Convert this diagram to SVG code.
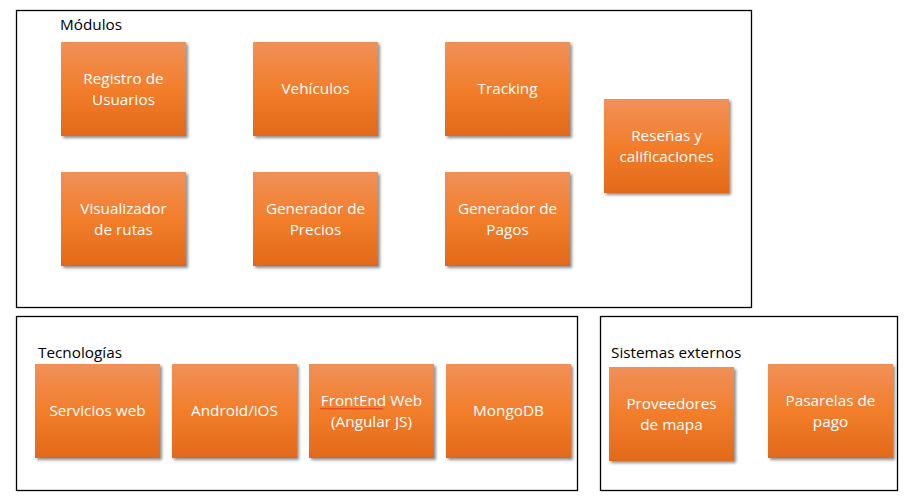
<svg xmlns="http://www.w3.org/2000/svg" width="914" height="501" viewBox="0 0 914 501">
<defs>
<linearGradient id="g" x1="0" y1="0" x2="0" y2="1">
<stop offset="0" stop-color="#f09059"/>
<stop offset="0.5" stop-color="#f27e2b"/>
<stop offset="1" stop-color="#e2691a"/>
</linearGradient>
<filter id="sh" x="-10%" y="-10%" width="125%" height="125%">
<feGaussianBlur in="SourceAlpha" stdDeviation="1.5"/>
<feOffset dx="2" dy="2" result="b"/>
<feComponentTransfer><feFuncA type="linear" slope="0.45"/></feComponentTransfer>
<feMerge><feMergeNode/><feMergeNode in="SourceGraphic"/></feMerge>
</filter>
</defs>
<style>
.frame{fill:#fff;stroke:#000;stroke-width:1.3}
.box{fill:url(#g);filter:url(#sh)}
.t{font-family:"Open Sans","Liberation Sans",sans-serif;font-size:15.3px;fill:#fff;text-anchor:middle}
.h{font-family:"Open Sans","Liberation Sans",sans-serif;font-size:15.3px;fill:#000}
</style>
<rect width="914" height="501" fill="#fff"/>
<g id="modulos">
<rect class="frame" x="16.5" y="10.5" width="735" height="297"/>
<text class="h" x="60" y="30">Módulos</text>
</g>
<g id="tecnologias">
<rect class="frame" x="16.5" y="316.5" width="561" height="174"/>
<text class="h" x="38" y="358">Tecnologías</text>
</g>
<g id="sistemas">
<rect class="frame" x="600.5" y="316.5" width="297" height="174"/>
<text class="h" x="611" y="358">Sistemas externos</text>
</g>
<g id="registro"><rect class="box" x="61" y="42" width="125" height="94"/><text class="t" x="123.5" y="84">Registro de</text><text class="t" x="123.5" y="105">Usuarios</text></g>
<g id="vehiculos"><rect class="box" x="253" y="42" width="125" height="94"/><text class="t" x="315.5" y="94">Vehículos</text></g>
<g id="tracking"><rect class="box" x="445" y="42" width="125" height="94"/><text class="t" x="507.5" y="94">Tracking</text></g>
<g id="resenas"><rect class="box" x="604" y="99" width="125" height="94"/><text class="t" x="666.5" y="141">Reseñas y</text><text class="t" x="666.5" y="162">calificaciones</text></g>
<g id="visualizador"><rect class="box" x="61" y="172" width="125" height="94"/><text class="t" x="123.5" y="214">Visualizador</text><text class="t" x="123.5" y="235">de rutas</text></g>
<g id="precios"><rect class="box" x="253" y="172" width="125" height="94"/><text class="t" x="315.5" y="214">Generador de</text><text class="t" x="315.5" y="235">Precios</text></g>
<g id="pagos"><rect class="box" x="445" y="172" width="125" height="94"/><text class="t" x="507.5" y="214">Generador de</text><text class="t" x="507.5" y="235">Pagos</text></g>
<g id="servicios"><rect class="box" x="35" y="364" width="125" height="94"/><text class="t" x="97.5" y="416">Servicios web</text></g>
<g id="android"><rect class="box" x="172" y="364" width="125" height="94"/><text class="t" x="234.5" y="416">Android/iOS</text></g>
<g id="frontend"><rect class="box" x="309" y="364" width="125" height="94"/><text class="t" x="371.5" y="406">FrontEnd Web</text><text class="t" x="371.5" y="427">(Angular JS)</text>
<path d="M320 409.5 l1.5 -1.5 l1.5 1.5 l1.5 -1.5 l1.5 1.5 l1.5 -1.5 l1.5 1.5 l1.5 -1.5 l1.5 1.5 l1.5 -1.5 l1.5 1.5 l1.5 -1.5 l1.5 1.5 l1.5 -1.5 l1.5 1.5 l1.5 -1.5 l1.5 1.5 l1.5 -1.5 l1.5 1.5 l1.5 -1.5 l1.5 1.5 l1.5 -1.5 l1.5 1.5 l1.5 -1.5 l1.5 1.5 l1.5 -1.5 l1.5 1.5 l1.5 -1.5 l1.5 1.5 l1.5 -1.5 l1.5 1.5 l1.5 -1.5 l1.5 1.5 l1.5 -1.5 l1.5 1.5 l1.5 -1.5 l1.5 1.5 l1.5 -1.5 l1.5 1.5 l1.5 -1.5 l1.5 1.5 l1.5 -1.5 l1.5 1.5" fill="none" stroke="#e02020" stroke-width="0.9"/></g>
<g id="mongodb"><rect class="box" x="446" y="364" width="125" height="94"/><text class="t" x="508.5" y="416">MongoDB</text></g>
<g id="proveedores"><rect class="box" x="609" y="367" width="125" height="94"/><text class="t" x="671.5" y="409">Proveedores</text><text class="t" x="671.5" y="430">de mapa</text></g>
<g id="pasarelas"><rect class="box" x="768" y="364" width="125" height="94"/><text class="t" x="830.5" y="406">Pasarelas de</text><text class="t" x="830.5" y="427">pago</text></g>
<g id="connectors"></g>
</svg>
